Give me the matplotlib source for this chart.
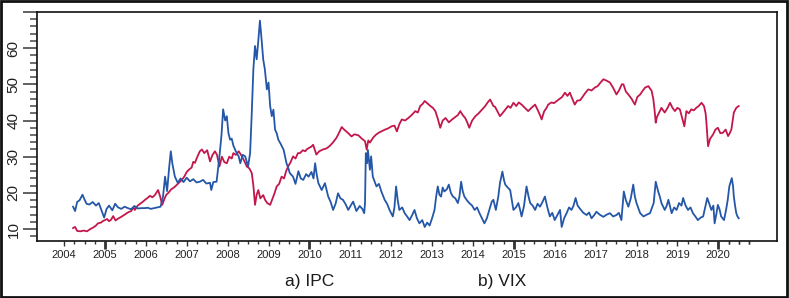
import matplotlib
matplotlib.use('Agg')
import matplotlib.pyplot as plt
from matplotlib.patches import Rectangle
from matplotlib.ticker import MultipleLocator, FuncFormatter

plt.rcParams['font.family'] = ['Liberation Sans', 'DejaVu Sans']

# blue series (VIX)
vix_t = [2004.22, 2004.27, 2004.32, 2004.38, 2004.45, 2004.5, 2004.55, 2004.62, 2004.7, 2004.78,
         2004.85, 2004.92, 2004.98, 2005.04, 2005.1, 2005.18, 2005.25, 2005.32, 2005.4, 2005.48,
         2005.56, 2005.64, 2005.72, 2005.8, 2005.88, 2005.96, 2006.05, 2006.12, 2006.2, 2006.28,
         2006.36, 2006.42, 2006.47, 2006.52, 2006.57, 2006.61, 2006.65, 2006.71, 2006.78, 2006.85,
         2006.92, 2007.0, 2007.08, 2007.16, 2007.24, 2007.32, 2007.4, 2007.48, 2007.57, 2007.6,
         2007.65, 2007.73, 2007.8, 2007.85, 2007.89, 2007.94, 2007.98, 2008.02, 2008.06, 2008.1,
         2008.14, 2008.2, 2008.27, 2008.31, 2008.37, 2008.43, 2008.5, 2008.55, 2008.59, 2008.63,
         2008.67, 2008.71, 2008.75, 2008.79, 2008.83, 2008.87, 2008.91, 2008.96, 2009.0, 2009.04,
         2009.08, 2009.12, 2009.16, 2009.2, 2009.24, 2009.3, 2009.37, 2009.44, 2009.48, 2009.52,
         2009.6, 2009.66, 2009.73, 2009.79, 2009.85, 2009.92, 2009.98, 2010.05, 2010.1, 2010.14,
         2010.18, 2010.22, 2010.3, 2010.38, 2010.46, 2010.52, 2010.58, 2010.64, 2010.7, 2010.76,
         2010.82, 2010.88, 2010.95, 2011.01, 2011.07, 2011.15, 2011.23, 2011.3, 2011.34, 2011.36,
         2011.38, 2011.41, 2011.43, 2011.48, 2011.51, 2011.55, 2011.6, 2011.64, 2011.7, 2011.76,
         2011.84, 2011.9, 2011.96, 2012.04, 2012.08, 2012.12, 2012.16, 2012.2, 2012.27, 2012.33,
         2012.39, 2012.45, 2012.51, 2012.57, 2012.63, 2012.69, 2012.76, 2012.82, 2012.88, 2012.94,
         2013.0, 2013.06, 2013.1, 2013.14, 2013.18, 2013.22, 2013.26, 2013.3, 2013.36, 2013.41,
         2013.46, 2013.51, 2013.57, 2013.63, 2013.67, 2013.71, 2013.75, 2013.79, 2013.85, 2013.91,
         2013.98, 2014.04, 2014.1, 2014.16, 2014.22, 2014.28, 2014.34, 2014.4, 2014.46, 2014.5,
         2014.56, 2014.62, 2014.66, 2014.72, 2014.76, 2014.79, 2014.85, 2014.91, 2014.95, 2014.99,
         2015.05, 2015.11, 2015.15, 2015.19, 2015.25, 2015.31, 2015.36, 2015.4, 2015.46, 2015.52,
         2015.58, 2015.64, 2015.7, 2015.76, 2015.82, 2015.88, 2015.94, 2016.0, 2016.06, 2016.13,
         2016.17, 2016.23, 2016.29, 2016.35, 2016.41, 2016.46, 2016.51, 2016.56, 2016.62, 2016.7,
         2016.78, 2016.84, 2016.9, 2016.96, 2017.02, 2017.1, 2017.19, 2017.27, 2017.35, 2017.43,
         2017.51, 2017.57, 2017.63, 2017.69, 2017.74, 2017.8, 2017.86, 2017.92, 2017.96, 2018.0,
         2018.09, 2018.17, 2018.25, 2018.33, 2018.42, 2018.47, 2018.53, 2018.57, 2018.61, 2018.69,
         2018.74, 2018.78, 2018.86, 2018.92, 2018.98, 2019.04, 2019.1, 2019.14, 2019.2, 2019.26,
         2019.32, 2019.38, 2019.44, 2019.5, 2019.57, 2019.63, 2019.68, 2019.73, 2019.78, 2019.83,
         2019.88, 2019.91, 2019.95, 2019.99, 2020.03, 2020.07, 2020.14, 2020.19, 2020.23, 2020.27,
         2020.3, 2020.33, 2020.36, 2020.38, 2020.41, 2020.44, 2020.47, 2020.5]
vix = [16.2, 15.0, 17.5, 18.0, 19.5, 18.2, 17.0, 16.8, 17.5, 16.5,
       17.2, 15.0, 13.2, 15.6, 16.5, 15.2, 17.0, 16.0, 15.6, 16.2,
       15.8, 15.5, 16.4, 15.7, 15.8, 15.8, 15.9, 15.6, 15.8, 16.0,
       16.2, 19.0, 24.5, 20.5, 27.0, 31.5, 28.0, 24.5, 22.8, 24.0,
       23.0, 24.2, 23.2, 23.8, 22.9, 23.1, 23.6, 22.6, 22.8, 20.8,
       23.0, 23.1, 30.1, 36.0, 43.1, 40.0, 41.2, 36.5, 34.7, 35.0,
       33.1, 31.5, 30.1, 28.2, 30.5, 30.1, 27.3, 31.0, 42.0, 54.2,
       60.6, 56.9, 62.0, 67.6, 62.5, 56.9, 54.2, 48.6, 50.5, 44.0,
       41.2, 43.0, 37.5, 36.5, 34.7, 33.5, 31.9, 28.2, 27.0, 25.5,
       24.5, 22.5, 26.0, 24.0, 23.6, 25.2, 24.5, 25.8, 24.0, 28.2,
       25.0, 22.7, 20.8, 22.7, 19.0, 17.5, 15.3, 17.0, 19.9, 18.5,
       18.1, 17.0, 15.3, 16.5, 17.6, 15.0, 16.4, 15.5, 14.4, 17.2,
       31.0, 28.2, 31.9, 26.4, 30.1, 24.5, 23.0, 21.8, 22.5, 20.4,
       18.1, 17.0, 15.3, 13.5, 16.0, 21.8, 18.0, 15.3, 16.0, 14.4,
       13.5, 12.5, 13.8, 15.3, 13.0, 11.6, 12.5, 10.6, 11.8, 11.0,
       13.0, 15.3, 19.0, 21.8, 19.5, 19.0, 21.5, 20.4, 21.0, 22.3,
       20.0, 19.0, 18.5, 17.2, 19.0, 23.1, 20.5, 19.0, 18.0, 17.2,
       16.5, 15.3, 16.0, 14.4, 13.0, 11.6, 13.0, 15.3, 17.6, 18.1,
       15.3, 19.0, 22.7, 25.9, 23.5, 22.3, 21.5, 20.8, 18.0, 15.3,
       16.0, 17.2, 15.5, 13.5, 16.5, 21.8, 19.0, 17.2, 16.5, 15.3,
       17.0, 16.2, 17.5, 19.0, 16.0, 13.5, 14.5, 12.5, 13.8, 15.3,
       10.6, 13.0, 14.4, 16.0, 15.3, 16.5, 18.6, 16.5, 15.6, 14.5,
       13.9, 14.6, 13.0, 13.8, 14.8, 14.0, 13.4, 14.0, 14.4, 13.5,
       13.9, 14.5, 12.5, 20.4, 18.0, 16.2, 18.5, 22.3, 19.0, 17.2,
       14.4, 13.5, 14.0, 14.4, 17.2, 23.1, 20.4, 19.0, 17.2, 15.3,
       16.5, 18.1, 14.4, 16.0, 15.3, 17.2, 16.5, 18.6, 16.5, 15.3,
       16.0, 14.4, 13.5, 12.5, 13.2, 13.5, 16.0, 18.6, 17.0, 15.3,
       16.5, 11.6, 14.0, 16.7, 15.5, 13.5, 12.5, 15.3, 18.0, 21.8,
       23.0, 24.1, 22.0, 19.0, 16.5, 14.4, 13.5, 13.0]

# red series (IPC)
ipc_t = [2004.22, 2004.27, 2004.32, 2004.4, 2004.48, 2004.56, 2004.64, 2004.72, 2004.78, 2004.83,
         2004.9, 2004.96, 2005.0, 2005.05, 2005.1, 2005.15, 2005.2, 2005.26, 2005.32, 2005.4,
         2005.48, 2005.56, 2005.64, 2005.7, 2005.73, 2005.8, 2005.86, 2005.92, 2005.98, 2006.04,
         2006.1, 2006.16, 2006.22, 2006.3, 2006.35, 2006.4, 2006.46, 2006.5, 2006.55, 2006.62,
         2006.7, 2006.78, 2006.84, 2006.88, 2006.94, 2007.0, 2007.06, 2007.12, 2007.16, 2007.2,
         2007.26, 2007.32, 2007.37, 2007.43, 2007.5, 2007.54, 2007.57, 2007.63, 2007.69, 2007.74,
         2007.8, 2007.86, 2007.92, 2007.98, 2008.04, 2008.1, 2008.14, 2008.2, 2008.27, 2008.33,
         2008.4, 2008.47, 2008.53, 2008.59, 2008.63, 2008.67, 2008.71, 2008.75, 2008.8, 2008.87,
         2008.92, 2008.97, 2009.04, 2009.1, 2009.15, 2009.2, 2009.26, 2009.32, 2009.38, 2009.43,
         2009.48, 2009.54, 2009.6, 2009.66, 2009.72, 2009.77, 2009.84, 2009.9, 2009.93, 2010.0,
         2010.05, 2010.09, 2010.13, 2010.17, 2010.24, 2010.33, 2010.42, 2010.5, 2010.58, 2010.66,
         2010.72, 2010.79, 2010.85, 2010.9, 2010.96, 2011.03, 2011.1, 2011.2, 2011.28, 2011.36,
         2011.4, 2011.44, 2011.48, 2011.56, 2011.62, 2011.69, 2011.76, 2011.85, 2011.92, 2012.01,
         2012.08, 2012.14, 2012.2, 2012.26, 2012.34, 2012.42, 2012.5, 2012.59, 2012.65, 2012.71,
         2012.77, 2012.82, 2012.88, 2012.96, 2013.02, 2013.08, 2013.14, 2013.2, 2013.26, 2013.33,
         2013.41, 2013.49, 2013.57, 2013.63, 2013.69, 2013.75, 2013.81, 2013.86, 2013.91, 2013.98,
         2014.06, 2014.14, 2014.22, 2014.3, 2014.36, 2014.42, 2014.5, 2014.54, 2014.6, 2014.66,
         2014.72, 2014.79, 2014.86, 2014.92, 2014.99, 2015.06, 2015.12, 2015.19, 2015.27, 2015.35,
         2015.43, 2015.52, 2015.58, 2015.64, 2015.68, 2015.74, 2015.8, 2015.84, 2015.92, 2015.98,
         2016.05, 2016.12, 2016.18, 2016.25, 2016.31, 2016.37, 2016.43, 2016.49, 2016.55, 2016.62,
         2016.66, 2016.74, 2016.82, 2016.9, 2016.98, 2017.05, 2017.12, 2017.19, 2017.27, 2017.35,
         2017.43, 2017.51, 2017.58, 2017.64, 2017.68, 2017.74, 2017.8, 2017.88, 2017.96, 2018.02,
         2018.09, 2018.15, 2018.21, 2018.29, 2018.37, 2018.41, 2018.44, 2018.47, 2018.5, 2018.53,
         2018.61, 2018.69, 2018.76, 2018.82, 2018.88, 2018.94, 2019.0, 2019.06, 2019.12, 2019.17,
         2019.22, 2019.28, 2019.34, 2019.4, 2019.46, 2019.52, 2019.59, 2019.65, 2019.69, 2019.71,
         2019.75, 2019.8, 2019.87, 2019.93, 2019.99, 2020.05, 2020.11, 2020.18, 2020.24, 2020.28,
         2020.32, 2020.38, 2020.44, 2020.5]
ipc = [10.3, 10.6, 9.5, 9.4, 9.6, 9.4, 10.0, 10.5, 11.0, 11.6,
       11.8, 12.3, 12.5, 12.8, 12.2, 12.6, 13.6, 12.4, 12.9, 13.4,
       14.0, 14.6, 15.0, 16.0, 15.3, 16.5, 17.0, 17.5, 18.1, 18.6,
       19.2, 18.8, 19.4, 20.8, 19.0, 16.7, 18.5, 19.5, 20.0, 21.0,
       21.6, 22.5, 23.2, 23.6, 24.5, 25.8, 26.5, 27.0, 28.6, 28.3,
       30.0, 31.5, 32.0, 31.0, 31.8, 30.0, 28.7, 30.5, 31.5, 30.5,
       27.3, 30.0, 28.5, 28.2, 30.0, 29.5, 31.0, 30.5, 31.5, 30.5,
       29.0, 27.3, 26.8, 25.5, 22.0, 16.7, 19.5, 20.8, 18.5, 19.4,
       18.0, 17.2, 16.7, 18.5, 20.0, 21.8, 22.5, 24.5, 24.0, 26.0,
       27.3, 28.5, 30.1, 29.5, 31.0, 31.0, 31.8, 31.5, 32.0, 32.5,
       32.8, 33.3, 32.0, 30.6, 31.5, 32.0, 32.3, 33.0, 34.0, 35.2,
       36.5, 38.2, 37.5, 37.0, 36.4, 35.6, 36.2, 35.9, 35.0, 34.3,
       32.0, 34.5, 33.9, 35.3, 36.0, 36.6, 37.0, 37.5, 37.8, 38.4,
       38.6, 37.0, 39.0, 40.3, 40.0, 40.7, 41.5, 42.6, 42.2, 44.0,
       44.6, 45.4, 44.8, 44.0, 43.5, 42.6, 40.5, 38.0, 40.0, 40.7,
       39.5, 40.3, 41.0, 41.5, 42.6, 41.5, 40.7, 39.5, 38.0, 40.0,
       41.2, 42.0, 43.0, 44.0, 45.0, 45.8, 44.0, 43.8, 42.5, 41.2,
       42.0, 43.0, 44.0, 43.5, 44.9, 44.0, 45.0, 44.4, 43.5, 42.6,
       43.5, 44.4, 43.0, 41.5, 40.3, 42.5, 43.5, 44.4, 45.0, 44.8,
       45.4, 46.0, 46.5, 47.7, 46.8, 47.7, 46.0, 44.4, 45.5, 45.6,
       46.2, 47.5, 48.6, 48.3, 49.1, 49.5, 50.5, 51.4, 51.0, 50.5,
       49.0, 47.2, 48.5, 50.0, 50.0, 48.0, 47.2, 46.0, 44.4, 46.5,
       47.2, 48.2, 49.1, 49.5, 48.2, 46.0, 43.1, 39.4, 41.0, 41.7,
       43.5, 42.2, 43.5, 44.9, 43.5, 42.6, 43.5, 43.1, 40.5, 38.4,
       42.6, 42.0, 43.1, 42.8, 43.5, 44.0, 44.9, 44.0, 42.0, 39.4,
       32.9, 35.0, 36.1, 37.5, 38.0, 36.5, 36.6, 37.5, 35.7, 36.5,
       37.5, 42.2, 43.5, 44.0]

years = list(range(2004, 2021))
year_labels = [str(y) for y in years]

fig = plt.figure(figsize=(7.89, 2.98), dpi=100)
ax = fig.add_axes([0.047, 0.191, 0.938, 0.769])

ax.plot(ipc_t, ipc, color='#c3174b', lw=1.3)
ax.plot(vix_t, vix, color='#2457a8', lw=1.3)

ax.set_xlim(2003.34, 2021.44)
ax.set_ylim(6.7, 70)

# y axis: major every 10, minor every 2, label 70 hidden
ax.yaxis.set_major_locator(MultipleLocator(10))
ax.yaxis.set_minor_locator(MultipleLocator(2))
ax.yaxis.set_major_formatter(FuncFormatter(lambda v, p: '' if v >= 70 or v < 10 else '%d' % v))
ax.tick_params(axis='y', which='major', length=10, width=1.3, color='#555555', pad=2,
               labelsize=11, labelcolor='#222222', labelrotation=90)
ax.tick_params(axis='y', which='minor', length=5, width=1.2, color='#555555')
for lbl in ax.get_yticklabels():
    lbl.set_va('center')

# x axis: yearly ticks with quarter minor ticks
ax.set_xticks(years)
ax.set_xticklabels(year_labels)
ax.set_xticks([y + q / 4 for y in years for q in range(1, 4)] + [2020.25, 2020.5, 2020.75], minor=True)
ax.tick_params(axis='x', which='major', length=3.5, width=1.0, color='#333333', pad=3,
               labelsize=8, labelcolor='#222222')
ax.tick_params(axis='x', which='minor', length=2.5, width=1.0, color='#333333')
for tick, y in zip(ax.xaxis.get_major_ticks(), years):
    if y % 5 == 0:
        tick.tick1line.set_markersize(6)
        tick.tick1line.set_markeredgewidth(2)
        tick.tick1line.set_color('black')

for s in ax.spines.values():
    s.set_linewidth(1.2)
    s.set_color('#111111')

fig.text(0.393, 0.054, 'a) IPC', ha='center', va='center', fontsize=12.5, color='#1a1a1a')
fig.text(0.636, 0.054, 'b) VIX', ha='center', va='center', fontsize=12.5, color='#1a1a1a')

# outer frame of the figure
fig.patches.append(Rectangle((0.001, 0.002), 0.997, 0.995, transform=fig.transFigure,
                             fill=False, edgecolor='#111111', linewidth=2))

fig.savefig('out.png', dpi=100)
